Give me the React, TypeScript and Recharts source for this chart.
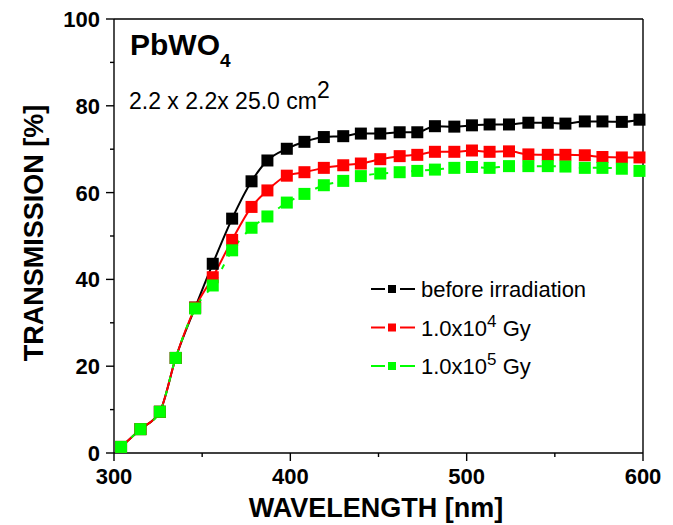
import { LineChart, Line, XAxis, YAxis, ReferenceLine, Label } from "recharts";

// wavelength [nm] of each measured point
const wavelengths = [
  304, 315, 326, 335, 346, 356, 367, 378, 387, 398, 408, 419, 430, 440, 451,
  462, 472, 482, 493, 503, 513, 524, 535, 546, 556, 567, 577, 588, 598,
];

// transmission [%] before irradiation
const beforeIrradiation = [
  1.4, 5.5, 9.5, 21.9, 33.5, 43.6, 54.0, 62.6, 67.4, 70.1, 71.7, 72.8, 73.0, 73.6, 73.6,
  73.9, 73.9, 75.3, 75.2, 75.5, 75.7, 75.7, 76.1, 76.1, 75.9, 76.4, 76.4, 76.3, 76.8,
];

// transmission [%] after 1.0x10^4 Gy
const dose1e4 = [
  1.4, 5.5, 9.5, 21.9, 33.5, 40.5, 49.1, 56.7, 60.5, 63.9, 64.7, 65.7, 66.3, 66.7, 67.7,
  68.4, 68.7, 69.4, 69.4, 69.7, 69.4, 69.5, 68.8, 68.7, 68.7, 68.6, 68.2, 68.1, 68.1,
];

// transmission [%] after 1.0x10^5 Gy
const dose1e5 = [
  1.4, 5.5, 9.5, 21.9, 33.3, 38.6, 46.7, 51.9, 54.5, 57.7, 59.7, 61.7, 62.7, 63.8, 64.4,
  64.7, 65.0, 65.3, 65.7, 65.9, 65.7, 66.1, 66.1, 66.1, 66.0, 65.7, 65.7, 65.5, 65.0,
];

const xTicks = [300, 350, 400, 450, 500, 550, 600];
const yTicks = [0, 10, 20, 30, 40, 50, 60, 70, 80, 90, 100];

const data = wavelengths.map((wl, i) => ({
  wl,
  before: beforeIrradiation[i],
  gy4: dose1e4[i],
  gy5: dose1e5[i],
}));

const FONT = "'Liberation Sans', Arial, Helvetica, sans-serif";

const series = [
  { key: "before", color: "#000000", dash: undefined as string | undefined, label: "before irradiation", exp: "" },
  { key: "gy4", color: "#ff0000", dash: undefined as string | undefined, label: "1.0x10", exp: "4" },
  { key: "gy5", color: "#00ff00", dash: "5 9", label: "1.0x10", exp: "5" },
];

const squareDot = (color: string) => (props: any) => {
  const { cx, cy, index } = props;
  if (cx == null || cy == null) return <g key={index} />;
  return <rect key={index} x={cx - 6} y={cy - 6} width={12} height={12} fill={color} />;
};

const XTick = (props: any) => {
  const { x, y, payload } = props;
  const major = payload.value % 100 === 0;
  return (
    <g>
      <line x1={x} x2={x} y1={y} y2={y + (major ? 8 : 4)} stroke="#000" strokeWidth={1.4} />
      {major && (
        <text x={x} y={y + 31} textAnchor="middle" fontFamily={FONT} fontWeight="bold" fontSize={22} fill="#000">
          {payload.value}
        </text>
      )}
    </g>
  );
};

const YTick = (props: any) => {
  const { x, y, payload } = props;
  const major = payload.value % 20 === 0;
  return (
    <g>
      <line x1={x} x2={x - (major ? 8 : 4)} y1={y} y2={y} stroke="#000" strokeWidth={1.4} />
      {major && (
        <text x={x - 14} y={y} dy="0.36em" textAnchor="end" fontFamily={FONT} fontWeight="bold" fontSize={22} fill="#000">
          {payload.value}
        </text>
      )}
    </g>
  );
};

export default function App() {
  return (
    <div style={{ position: "absolute", left: 0, top: 0, width: 673, height: 525, background: "#fff" }}>
      <LineChart width={673} height={525} data={data} margin={{ top: 19, right: 30, bottom: 0, left: 0 }}>
        <XAxis
          dataKey="wl"
          type="number"
          domain={[300, 600]}
          ticks={xTicks}
          interval={0}
          height={72}
          tickSize={0}
          tickMargin={0}
          tickLine={false}
          tick={<XTick />}
          axisLine={{ stroke: "#000", strokeWidth: 1.4 }}
        >
          <Label
            content={() => (
              <text x={376} y={517} textAnchor="middle" fontFamily={FONT} fontWeight="bold" fontSize={27} fill="#000">
                WAVELENGTH [nm]
              </text>
            )}
          />
        </XAxis>
        <YAxis
          type="number"
          domain={[0, 100]}
          ticks={yTicks}
          interval={0}
          width={114}
          tickSize={0}
          tickMargin={0}
          tickLine={false}
          tick={<YTick />}
          axisLine={{ stroke: "#000", strokeWidth: 1.4 }}
        >
          <Label
            content={() => (
              <text
                x={43}
                y={233}
                transform="rotate(-90 43 233)"
                textAnchor="middle"
                fontFamily={FONT}
                fontWeight="bold"
                fontSize={27}
                fill="#000"
              >
                TRANSMISSION [%]
              </text>
            )}
          />
        </YAxis>
        <ReferenceLine y={100} stroke="#000" strokeWidth={1.4} />
        <ReferenceLine x={600} stroke="#000" strokeWidth={1.4} />
        {series.map((s) => (
          <Line
            key={s.key}
            dataKey={s.key}
            type="monotone"
            stroke={s.color}
            strokeWidth={2}
            strokeDasharray={s.dash}
            dot={squareDot(s.color)}
            activeDot={false}
            isAnimationActive={false}
          />
        ))}
      </LineChart>

      <svg
        width={673}
        height={525}
        style={{ position: "absolute", left: 0, top: 0, pointerEvents: "none" }}
        fontFamily={FONT}
      >
        <text x={130} y={55} fill="#000">
          <tspan fontWeight="bold" fontSize={30}>PbWO</tspan>
          <tspan fontWeight="bold" fontSize={19} dy={12}>4</tspan>
        </text>
        <text x={129} y={109} fill="#000" fontSize={23}>
          <tspan>2.2 x 2.2x 25.0 cm</tspan>
          <tspan dy={-11}>2</tspan>
        </text>

        {series.map((s, i) => {
          const cy = 289 + i * 38.5;
          return (
            <g key={s.key}>
              <line x1={371} x2={385} y1={cy} y2={cy} stroke={s.color} strokeWidth={2} />
              <rect x={388} y={cy - 4} width={8} height={8} fill={s.color} />
              <line x1={400} x2={415} y1={cy} y2={cy} stroke={s.color} strokeWidth={2} />
              <text x={421} y={cy + 8} fontSize={22} fill="#000">
                <tspan>{s.label}</tspan>
                {s.exp && (
                  <>
                    <tspan dy={-9} fontSize={17}>{s.exp}</tspan>
                    <tspan dy={9}>{" Gy"}</tspan>
                  </>
                )}
              </text>
            </g>
          );
        })}
      </svg>
    </div>
  );
}
